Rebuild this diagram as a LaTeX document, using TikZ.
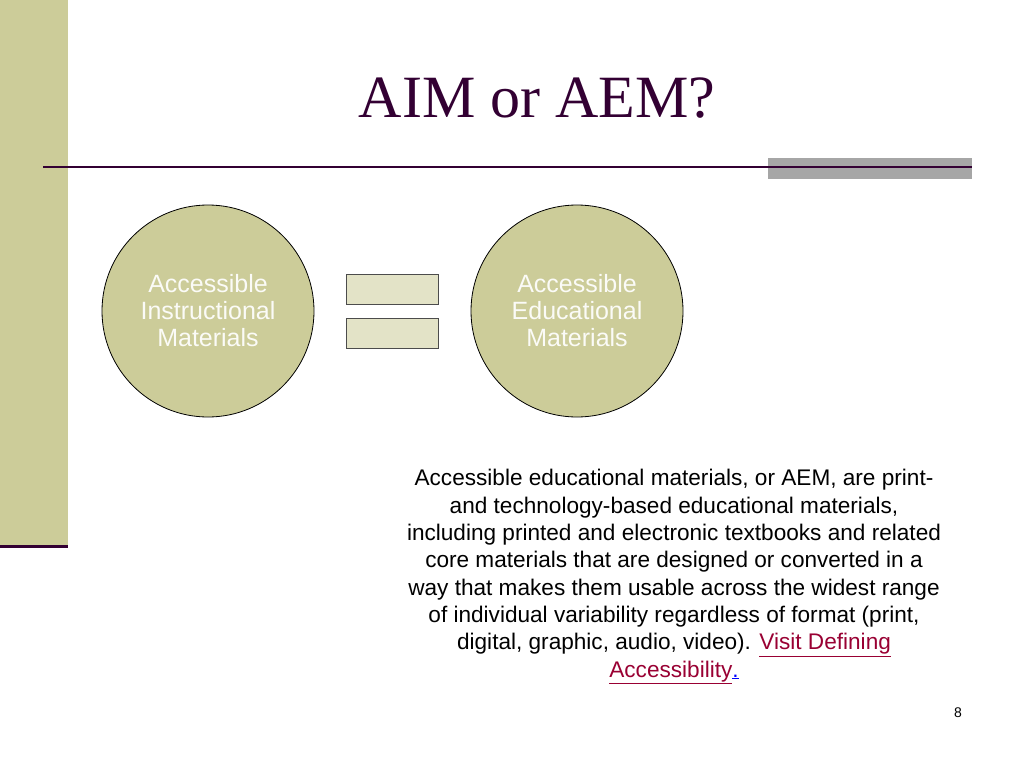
\documentclass[tikz,border=0pt]{standalone}
\usepackage{fontspec}
\setmainfont{Liberation Sans}
\newfontfamily\titlefont{Liberation Serif}
\definecolor{olive}{HTML}{CCCC99}
\definecolor{plum}{HTML}{330033}
\definecolor{linkred}{HTML}{990033}
\tikzset{
  aimcircle/.style={circle, draw=black, thick, fill=olive, minimum size=212pt,
    text=white!92!olive, align=center, font=\fontsize{25}{27}\selectfont},
  eqbar/.style={rectangle, draw=black!70, thick, fill=olive!55, minimum width=92pt, minimum height=30pt}
}
\begin{document}
\begin{tikzpicture}[x=1pt,y=-1pt]
		\useasboundingbox (0,0) rectangle (1024,768);
		\fill[white] (0,0) rectangle (1024,768);
		
		% Left band
		\fill[olive] (0,0) rectangle (68,548);
		\draw[plum, line width=3pt] (0,546) -- (68,546);
		
		% Title and rule
		\node[font=\titlefont\fontsize{60}{64}\selectfont, text=plum] (title) at (537,98) {AIM or AEM?};
		\fill[black!35] (768,158) rectangle (972,179);
		\draw[plum, line width=2pt] (43,167) -- (972,167);
		
		% Circles
		\node[aimcircle] (aim) at (208,311) {Accessible\\Instructional\\Materials};
		\node[aimcircle] (aem) at (577,311) {Accessible\\Educational\\Materials};
		
		% Equals sign
		\node[eqbar] (eqTop) at (392,289) {};
		\node[eqbar] (eqBottom) at (392,333) {};
		
		% Definition
		\node[align=center, font=\fontsize{22.6}{27.3}\selectfont, anchor=north] (definition) at (674,466)
		{Accessible educational materials, or AEM, are print-\\
		and technology-based educational materials,\\
		including printed and electronic textbooks and related\\
		core materials that are designed or converted in a\\
		way that makes them usable across the widest range\\
		of individual variability regardless of format (print,\\
		digital, graphic, audio, video). \textcolor{linkred}{\underline{Visit Defining}}\\
		\textcolor{linkred}{\underline{Accessibility}}\textcolor{blue}{\underline{.}}};
		
		\node[font=\fontsize{14}{16}\selectfont] (pagenum) at (958,713) {8};
		
	\end{tikzpicture}
\end{document}
